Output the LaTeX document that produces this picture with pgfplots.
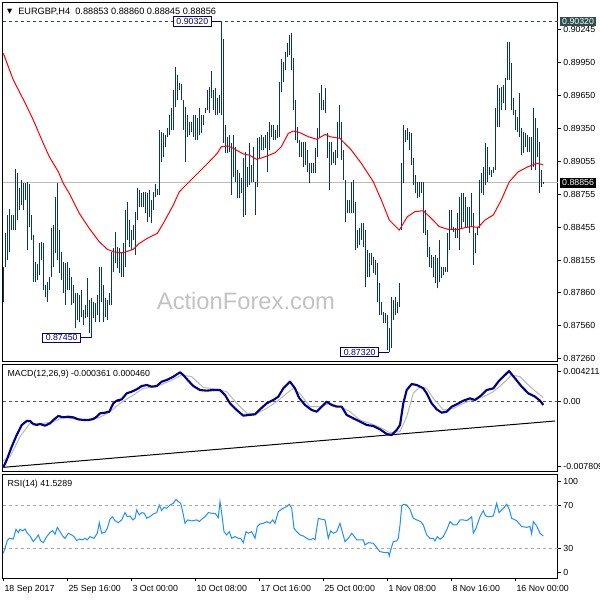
\documentclass[border=0pt]{standalone}
\usepackage{pgfplots}
\pgfplotsset{compat=1.18}
\usepackage{pgfplotstable}
\usepackage{fontspec}
\setmainfont{Liberation Sans}
\newfontfamily\dejavu{DejaVu Sans}
\definecolor{barc}{RGB}{8,56,92}
\definecolor{macdc}{RGB}{0,0,139}
\definecolor{sigc}{RGB}{185,185,185}
\definecolor{rsic}{RGB}{30,144,255}
\definecolor{slate}{RGB}{47,79,79}
\definecolor{lblc}{RGB}{0,0,128}
\definecolor{lvl}{RGB}{170,170,170}
\definecolor{zer}{RGB}{80,80,80}
\definecolor{wm}{RGB}{195,195,195}
\newcommand\mtf{\fontsize{6.6}{8}\selectfont}

\pgfplotstableread{
i hi lo
0 0.88095 0.87778
1 0.88398 0.88095
2 0.88565 0.88156
3 0.88616 0.88232
4 0.88565 0.88428
5 0.88565 0.88428
6 0.88979 0.88428
7 0.88943 0.88519
8 0.88807 0.88610
9 0.88882 0.88655
10 0.88858 0.88610
11 0.88858 0.88701
12 0.88867 0.88247
13 0.88846 0.88459
14 0.88565 0.88338
15 0.88383 0.87959
16 0.88141 0.87959
17 0.88120 0.87974
18 0.88307 0.88020
19 0.88322 0.88156
20 0.88307 0.87883
21 0.87929 0.87823
22 0.87959 0.87778
23 0.88005 0.87883
24 0.88443 0.88005
25 0.88474 0.88095
26 0.88731 0.88216
27 0.88852 0.88156
28 0.88428 0.88035
29 0.88232 0.87974
30 0.88141 0.87853
31 0.88126 0.87747
32 0.88141 0.87883
33 0.88080 0.87883
34 0.88005 0.87747
35 0.87929 0.87762
36 0.87853 0.87535
37 0.87853 0.87611
38 0.87838 0.87596
39 0.87883 0.87641
40 0.87702 0.87566
41 0.87747 0.87626
42 0.87990 0.87641
43 0.87793 0.87490
44 0.87808 0.87450
45 0.87778 0.87626
46 0.87762 0.87596
47 0.87838 0.87656
48 0.88095 0.87596
49 0.88095 0.87778
50 0.87929 0.87596
51 0.87808 0.87641
52 0.87793 0.87611
53 0.87853 0.87747
54 0.88232 0.87747
55 0.88262 0.88050
56 0.88413 0.88126
57 0.88277 0.88080
58 0.88262 0.88035
59 0.88216 0.88005
60 0.88307 0.88005
61 0.88610 0.88095
62 0.88686 0.88338
63 0.88519 0.88277
64 0.88428 0.88247
65 0.88474 0.88338
66 0.88595 0.88201
67 0.88807 0.88519
68 0.88792 0.88640
69 0.88761 0.88640
70 0.88776 0.88640
71 0.88776 0.88580
72 0.88761 0.88504
73 0.88792 0.88549
74 0.88701 0.88489
75 0.88776 0.88610
76 0.88846 0.88731
77 0.88798 0.88746
78 0.89336 0.88746
79 0.89321 0.89049
80 0.89306 0.89094
81 0.89291 0.89185
82 0.89352 0.89276
83 0.89473 0.89291
84 0.89533 0.89336
85 0.89700 0.89336
86 0.89912 0.89548
87 0.89836 0.89609
88 0.89760 0.89700
89 0.89754 0.89609
90 0.89609 0.89336
91 0.89548 0.89049
92 0.89473 0.89276
93 0.89412 0.89291
94 0.89412 0.89321
95 0.89473 0.89276
96 0.89473 0.89246
97 0.89442 0.89246
98 0.89533 0.89291
99 0.89473 0.89306
100 0.89473 0.89382
101 0.89533 0.89488
102 0.89700 0.89518
103 0.89730 0.89488
104 0.89875 0.89624
105 0.89700 0.89518
106 0.89715 0.89473
107 0.89624 0.89473
108 0.89654 0.89488
109 0.90320 0.89473
110 0.90160 0.89215
111 0.89382 0.89125
112 0.89276 0.89125
113 0.89291 0.89140
114 0.89215 0.88746
115 0.89291 0.88913
116 0.89185 0.88867
117 0.88973 0.88716
118 0.88943 0.88716
119 0.88898 0.88761
120 0.89079 0.88549
121 0.89140 0.88565
122 0.89004 0.88822
123 0.89215 0.88837
124 0.89019 0.88867
125 0.89185 0.88867
126 0.88867 0.88565
127 0.89261 0.88822
128 0.89276 0.89079
129 0.89291 0.89155
130 0.89276 0.89155
131 0.89291 0.89170
132 0.89321 0.88958
133 0.89412 0.89155
134 0.89382 0.89276
135 0.89382 0.89246
136 0.89336 0.89246
137 0.89382 0.89261
138 0.89775 0.89276
139 0.89978 0.89685
140 0.89957 0.89775
141 0.90048 0.89881
142 0.90124 0.90002
143 0.90199 0.90018
144 0.90220 0.89881
145 0.89987 0.89518
146 0.89609 0.89246
147 0.89367 0.89215
148 0.89246 0.89094
149 0.89231 0.89094
150 0.89231 0.89004
151 0.89231 0.89019
152 0.89155 0.88958
153 0.89034 0.88852
154 0.89034 0.88943
155 0.89034 0.88943
156 0.89170 0.88943
157 0.89352 0.89094
158 0.89676 0.89261
159 0.89745 0.89518
160 0.89609 0.89518
161 0.89715 0.89488
162 0.89306 0.89079
163 0.89231 0.88792
164 0.89231 0.89019
165 0.89140 0.89034
166 0.89155 0.89019
167 0.89412 0.89079
168 0.89564 0.89261
169 0.89412 0.89064
170 0.89155 0.88882
171 0.88882 0.88504
172 0.88701 0.88580
173 0.88701 0.88580
174 0.88867 0.88580
175 0.88882 0.88580
176 0.88686 0.88247
177 0.88428 0.88262
178 0.88443 0.88292
179 0.88489 0.88338
180 0.88489 0.88277
181 0.88428 0.87914
182 0.88247 0.88005
183 0.88216 0.88005
184 0.88216 0.88111
185 0.88186 0.88035
186 0.88156 0.88020
187 0.88126 0.87778
188 0.87944 0.87656
189 0.87778 0.87656
190 0.87687 0.87581
191 0.87672 0.87581
192 0.87656 0.87339
193 0.87535 0.87320
194 0.87823 0.87354
195 0.87793 0.87611
196 0.87823 0.87656
197 0.87778 0.87672
198 0.87944 0.87732
199 0.89034 0.88428
200 0.89382 0.88852
201 0.89336 0.89231
202 0.89352 0.89246
203 0.89321 0.89155
204 0.89306 0.89019
205 0.89079 0.88837
206 0.88928 0.88761
207 0.88867 0.88716
208 0.88867 0.88731
209 0.88867 0.88761
210 0.88867 0.88398
211 0.88610 0.88383
212 0.88428 0.88186
213 0.88277 0.88095
214 0.88201 0.88080
215 0.88186 0.88005
216 0.88201 0.87944
217 0.88171 0.87899
218 0.88338 0.87959
219 0.88095 0.87990
220 0.88095 0.88020
221 0.88095 0.88050
222 0.88398 0.88050
223 0.88610 0.88247
224 0.88610 0.88428
225 0.88459 0.88413
226 0.88443 0.88353
227 0.88580 0.88353
228 0.88731 0.88247
229 0.88761 0.88443
230 0.88761 0.88504
231 0.88731 0.88459
232 0.88640 0.88459
233 0.88640 0.88398
234 0.88761 0.88459
235 0.88580 0.88111
236 0.88398 0.88216
237 0.88459 0.88383
238 0.88882 0.88443
239 0.88943 0.88761
240 0.89004 0.88746
241 0.89215 0.88837
242 0.89185 0.88867
243 0.89004 0.88928
244 0.88973 0.88913
245 0.89004 0.88943
246 0.89533 0.88973
247 0.89745 0.89367
248 0.89715 0.89367
249 0.89730 0.89518
250 0.89745 0.89579
251 0.89806 0.89518
252 0.90139 0.89791
253 0.90139 0.89791
254 0.89942 0.89518
255 0.89624 0.89473
256 0.89518 0.89336
257 0.89458 0.89321
258 0.89669 0.89276
259 0.89352 0.89109
260 0.89321 0.89125
261 0.89306 0.89185
262 0.89291 0.89140
263 0.89276 0.89140
264 0.89276 0.88973
265 0.89533 0.89004
266 0.89442 0.88973
267 0.89352 0.89094
268 0.89231 0.88767
269 0.88973 0.88822
270 0.88860 0.88845
}\bars

\pgfplotstableread{
i v
0 0.90033
5 0.89791
11 0.89579
15 0.89427
20 0.89215
23 0.89094
27.5 0.88958
30 0.88852
33 0.88761
38 0.88580
43 0.88443
48 0.88322
52 0.88253
55 0.88232
58 0.88223
60 0.88223
65 0.88253
68 0.88307
72 0.88353
77 0.88398
80 0.88489
85 0.88655
88 0.88776
93 0.88867
98 0.88958
103 0.89049
107 0.89125
109 0.89185
112.5 0.89191
115 0.89170
120 0.89119
123 0.89109
126.7 0.89070
130 0.89088
133 0.89109
136 0.89131
139 0.89185
142.5 0.89306
145 0.89327
148 0.89315
152.5 0.89276
156.7 0.89252
161 0.89297
163.3 0.89276
168.3 0.89261
174 0.89155
179 0.89034
185 0.88867
189 0.88701
193 0.88519
198 0.88428
202 0.88549
205.8 0.88595
210 0.88604
214 0.88534
218 0.88459
222.5 0.88434
227.5 0.88434
230.8 0.88450
234 0.88459
237.5 0.88453
240.8 0.88519
245 0.88565
249 0.88701
253 0.88867
257.5 0.88958
262.5 0.89004
266.7 0.89034
269 0.89025
270 0.89019
}\ma

\pgfplotstableread{
i v
0 -0.007321
1.7 -0.006503
4.2 -0.005015
6.7 -0.003713
9.2 -0.002597
11.7 -0.002151
13.35 -0.002151
15.0 -0.002485
16.7 -0.002597
18.35 -0.002485
20.85 -0.002671
23.35 -0.002411
25.0 -0.002039
27.5 -0.001593
30.0 -0.001741
32.5 -0.001667
35.0 -0.001741
37.5 -0.001965
40.0 -0.002039
42.5 -0.002039
45.0 -0.001927
46.7 -0.001667
48.35 -0.001295
50.85 -0.001221
53.0 -0.001109
55.0 -0.000179
56.7 0.000119
59.2 0.000267
61.7 0.000937
64.2 0.001123
66.7 0.001383
69.2 0.001755
71.7 0.001867
74.2 0.001681
76.7 0.001755
79.2 0.002239
81.7 0.002425
85.0 0.002797
88.35 0.003281
90.0 0.002983
92.5 0.002351
95.0 0.001755
98.35 0.001309
101.7 0.001235
105.0 0.001309
108.35 0.001309
110.85 0.000751
113.35 -0.000179
116.7 -0.000923
120.0 -0.001555
122.5 -0.001481
125.85 -0.001407
128.35 -0.000849
131.7 -0.000179
135.0 0.000193
137.5 0.000565
140.0 0.001495
143.35 0.002239
145.85 0.001495
147.85 0.000453
150.85 -0.000365
154.2 -0.000923
156.7 -0.001109
159.2 -0.000551
161.7 0.000007
164.2 -0.000365
166.7 -0.000551
169.2 -0.000551
171.7 -0.001481
175.0 -0.001853
178.35 -0.002225
181.7 -0.002597
185.0 -0.002709
188.35 -0.003081
191.7 -0.003601
194.2 -0.003713
196.7 -0.003155
198.35 -0.002597
200.0 -0.000179
201.7 0.001309
204.2 0.001979
206.7 0.001867
210.0 0.001495
211.7 0.000937
214.2 -0.000179
216.7 -0.000849
219.2 -0.001221
221.7 -0.001109
224.2 -0.000551
226.7 -0.000291
230.0 0.000119
233.35 0.000379
235.85 0.000193
239.2 0.000751
241.7 0.001309
245.0 0.001495
247.5 0.002239
250.0 0.002797
252.85 0.003429
255.85 0.002611
259.2 0.001681
262.5 0.000937
265.85 0.000565
268.35 0.000119
270.0 -0.000361
}\macd

\pgfplotstableread{
i v
0 -0.006577
3.35 -0.006131
8.35 -0.003903
13.35 -0.002411
20.0 -0.002411
25.0 -0.002225
30.0 -0.001741
36.7 -0.001965
43.35 -0.002039
48.35 -0.001741
53.35 -0.001109
58.35 -0.000179
65.0 0.000751
70.0 0.001495
76.7 0.001681
83.35 0.002313
89.2 0.002983
94.2 0.002797
100.0 0.001607
106.7 0.001383
111.7 0.001123
116.7 -0.000179
121.7 -0.001295
126.7 -0.001295
131.7 -0.000737
136.7 0.000007
141.7 0.000937
145.0 0.001495
148.35 0.000900
153.35 -0.000551
158.35 -0.000551
163.35 -0.000179
168.35 -0.000551
173.35 -0.001109
178.35 -0.002039
183.35 -0.002411
188.35 -0.002857
193.35 -0.003453
198.35 -0.003341
201.7 -0.001667
205.0 0.000937
208.35 0.001681
211.7 0.001495
215.0 0.000379
220.0 -0.000923
225.0 -0.000737
230.0 -0.000179
235.0 0.000193
240.0 0.000565
245.0 0.001123
250.0 0.002053
254.2 0.002983
258.35 0.002797
263.35 0.001681
268.35 0.000751
270.0 0.000460
}\signal

\pgfplotstableread{
i v
0.0 25.3
0.85 30.0
2.0 37.2
3.0 39.4
5.0 38.8
6.35 47.9
7.5 44.8
8.35 47.9
9.7 46.4
10.85 48.2
12.0 44.2
13.35 41.6
15.0 36.3
16.35 39.4
17.5 42.6
18.7 36.9
20.0 35.3
21.7 41.0
23.35 44.8
24.7 46.7
25.85 43.2
27.0 49.8
28.35 45.7
29.7 41.6
30.85 39.4
32.5 44.2
34.2 42.6
35.35 41.0
36.7 37.2
38.0 38.8
39.35 37.9
40.85 39.4
42.0 37.9
43.35 41.0
45.35 39.4
47.0 44.2
48.0 54.2
49.2 44.2
50.85 45.1
52.0 48.9
53.35 57.4
54.5 59.9
55.85 56.1
57.5 54.2
59.2 56.8
60.85 63.7
62.0 59.9
63.35 60.5
64.7 56.8
65.85 58.3
66.7 66.2
68.0 61.5
69.2 63.7
70.5 63.1
71.7 58.3
73.35 59.9
75.0 62.4
76.7 63.7
78.0 70.9
79.2 65.6
80.35 68.7
81.7 67.8
83.35 70.9
85.0 72.5
86.35 76.3
87.5 74.1
88.7 72.5
89.7 64.6
90.85 53.6
92.2 56.8
94.2 55.8
96.7 56.8
98.0 55.2
99.2 57.4
100.85 59.9
102.5 63.7
104.2 63.1
105.85 63.1
107.5 59.0
108.35 74.1
109.2 63.1
110.35 45.7
111.7 42.6
113.0 45.7
114.2 39.4
115.85 41.0
117.5 39.4
118.7 39.4
120.0 35.3
121.35 45.7
122.5 44.2
124.2 45.7
125.85 39.4
127.0 50.5
128.35 53.0
130.0 53.6
131.7 55.2
133.35 53.6
134.7 56.8
135.85 53.6
137.5 64.6
139.2 67.1
141.7 69.4
143.0 71.6
144.2 67.8
145.35 48.9
146.7 45.7
148.35 42.6
150.0 41.6
151.7 39.4
153.35 37.9
155.0 39.4
155.85 37.9
157.5 58.3
159.2 57.4
160.85 56.8
162.5 39.4
163.7 46.4
165.0 44.2
166.7 45.7
168.35 53.6
169.7 44.2
170.85 36.3
172.5 39.4
174.2 44.2
175.35 41.6
176.7 37.9
178.35 37.9
180.0 37.9
180.85 33.1
182.5 35.3
185.0 34.7
186.35 31.5
188.35 26.8
190.85 25.9
192.5 25.9
193.0 22.7
193.7 28.4
195.0 36.3
196.7 36.9
197.5 39.4
198.35 52.0
199.2 69.4
200.0 71.6
201.7 70.9
203.35 66.8
205.0 58.3
206.7 56.8
208.7 55.2
210.0 52.0
211.7 42.6
213.35 39.4
215.0 39.4
215.85 36.9
217.0 41.0
218.35 38.5
220.0 41.0
221.7 47.3
223.35 55.2
225.0 52.0
226.7 52.0
228.35 56.8
230.0 56.8
231.7 56.1
233.35 58.3
234.2 59.9
235.0 44.2
236.35 48.9
238.35 59.9
240.0 65.6
240.85 61.5
241.7 59.9
243.35 59.9
245.0 60.5
246.7 72.5
247.85 63.7
249.2 66.2
250.35 68.4
251.7 71.6
253.0 66.8
254.2 58.3
256.7 56.1
259.2 50.5
261.7 49.8
263.35 50.5
264.2 43.5
265.0 55.2
266.7 51.1
268.35 44.2
270.0 41.5
}\rsi

\pgfplotsset{mt/.style={
  scale only axis, width=416.25pt, xmin=-0.3, xmax=277.2,
  axis line style={black, line width=0.75pt},
  tick align=outside, major tick length=2.25pt,
  tick style={black, line width=0.75pt},
  ytick pos=right, yticklabel pos=right,
  ticklabel style={font=\mtf, black},
  yticklabel style={xshift=-1.5pt},
  scaled y ticks=false, clip=false, anchor=north west}}

\begin{document}
\begin{tikzpicture}
\path[use as bounding box] (0,0) rectangle (450pt,-450pt);
\fill[white] (0,0) rectangle (450pt,-450pt);

% ---------- main price panel ----------
\begin{axis}[mt, at={(2.025pt,-2.025pt)}, height=269.25pt,
  ymin=0.872328, ymax=0.904925, xtick=\empty,
  ytick={0.87260,0.875585,0.87857,0.881555,0.88454,0.887525,0.89051,0.893495,0.89648,0.899465,0.90245},
  yticklabels={0.87260,0.87560,0.87860,0.88155,0.88455,0.88755,0.89055,0.89350,0.89650,0.89950,0.90245}]
\addplot[slate, line width=0.75pt, dash pattern=on 2.25pt off 2.25pt, forget plot] coordinates {(-0.3,0.90320) (277.2,0.90320)};
\addplot[lvl!80, line width=0.75pt, forget plot] coordinates {(-0.3,0.88856) (277.2,0.88856)};
\addplot[barc, line width=0.85pt, -, mark=none, forget plot,
  quiver={u=0, v=\thisrow{hi}-\thisrow{lo}, scale arrows=1}]
  table[x=i, y=lo] {\bars};
\addplot[red, line width=0.75pt, forget plot] table[x=i, y=v] {\ma};
% price labels
\addplot[lblc, line width=0.75pt, forget plot] coordinates {(104.2,0.90320) (109,0.90320)};
\addplot[lblc, line width=0.75pt, forget plot] coordinates {(38.85,0.87450) (44,0.87450)};
\addplot[lblc, line width=0.75pt, forget plot] coordinates {(187.85,0.87320) (193,0.87320)};
\node[draw=lblc, fill=white, text=lblc, font=\mtf, inner xsep=2.2pt, inner ysep=1.2pt, line width=0.75pt, anchor=east] at (axis cs:104.2,0.90320) {0.90320};
\node[draw=lblc, fill=white, text=lblc, font=\mtf, inner xsep=2.2pt, inner ysep=1.2pt, line width=0.75pt, anchor=east] at (axis cs:38.85,0.87450) {0.87450};
\node[draw=lblc, fill=white, text=lblc, font=\mtf, inner xsep=2.2pt, inner ysep=1.2pt, line width=0.75pt, anchor=east] at (axis cs:187.85,0.87320) {0.87320};
\node[fill=slate, text=white, font=\mtf, inner xsep=1.5pt, inner ysep=1.2pt, anchor=west] at (axis cs:278.3,0.90320) {0.90320};
\node[fill=black, text=white, font=\mtf, inner xsep=1.5pt, inner ysep=1.2pt, anchor=west] at (axis cs:278.3,0.88856) {0.88856};
\end{axis}

% ---------- MACD panel ----------
\begin{axis}[mt, at={(2.025pt,-273pt)}, height=80.775pt,
  ymin=-0.007809, ymax=0.004211, xtick=\empty,
  ytick={0.003352,0,-0.007250}, yticklabels={0.004211,0.00,-0.007809}]
\addplot[zer, line width=0.75pt, dash pattern=on 2.25pt off 2.25pt, forget plot] coordinates {(-0.3,0) (277.2,0)};
\addplot[black, line width=0.75pt, forget plot] coordinates {(0,-0.007321) (275.85,-0.002151)};
\addplot[sigc, line width=0.75pt, forget plot] table[x=i, y=v] {\signal};
\addplot[macdc, line width=1.6pt, line join=round, forget plot] table[x=i, y=v] {\macd};
\end{axis}

% ---------- RSI panel ----------
\begin{axis}[mt, at={(2.025pt,-355.5pt)}, height=78.225pt,
  ymin=1.6, ymax=100.2,
  ytick={93.0,70,30,7.3}, yticklabels={100,70,30,0},
  xtick={0,32,64,96,128,160,192,224,256}, xtick pos=bottom,
  xticklabels={18 Sep 2017,25 Sep 16:00,3 Oct 00:00,10 Oct 08:00,17 Oct 16:00,25 Oct 00:00,1 Nov 08:00,8 Nov 16:00,16 Nov 00:00},
  xticklabel style={anchor=north west, xshift=-2.6pt, yshift=0.5pt}]
\addplot[lvl, line width=0.75pt, dash pattern=on 2.25pt off 2.25pt, forget plot] coordinates {(-0.3,70) (277.2,70)};
\addplot[lvl, line width=0.75pt, dash pattern=on 2.25pt off 2.25pt, forget plot] coordinates {(-0.3,30) (277.2,30)};
\addplot[rsic, line width=0.75pt, forget plot] table[x=i, y=v] {\rsi};
\end{axis}

% ---------- texts ----------
\node[anchor=base west, inner sep=0, font=\dejavu\fontsize{5}{6}\selectfont] at (5.2pt,-10.3pt) {▼};
\node[anchor=base west, inner sep=0, font=\fontsize{6.9}{8}\selectfont] at (13.5pt,-10.5pt) {EURGBP,H4\ \ 0.88853 0.88860 0.88845 0.88856};
\node[anchor=base west, inner sep=0, font=\mtf] at (5.5pt,-282.5pt) {MACD(12,26,9) -0.000361 0.000460};
\node[anchor=base west, inner sep=0, font=\mtf] at (5.5pt,-365pt) {RSI(14) 41.5289};
\node[anchor=base west, inner sep=0, text=wm, font=\fontsize{17.8}{20}\selectfont] at (117.5pt,-231.75pt) {ActionForex.com};
\end{tikzpicture}
\end{document}
